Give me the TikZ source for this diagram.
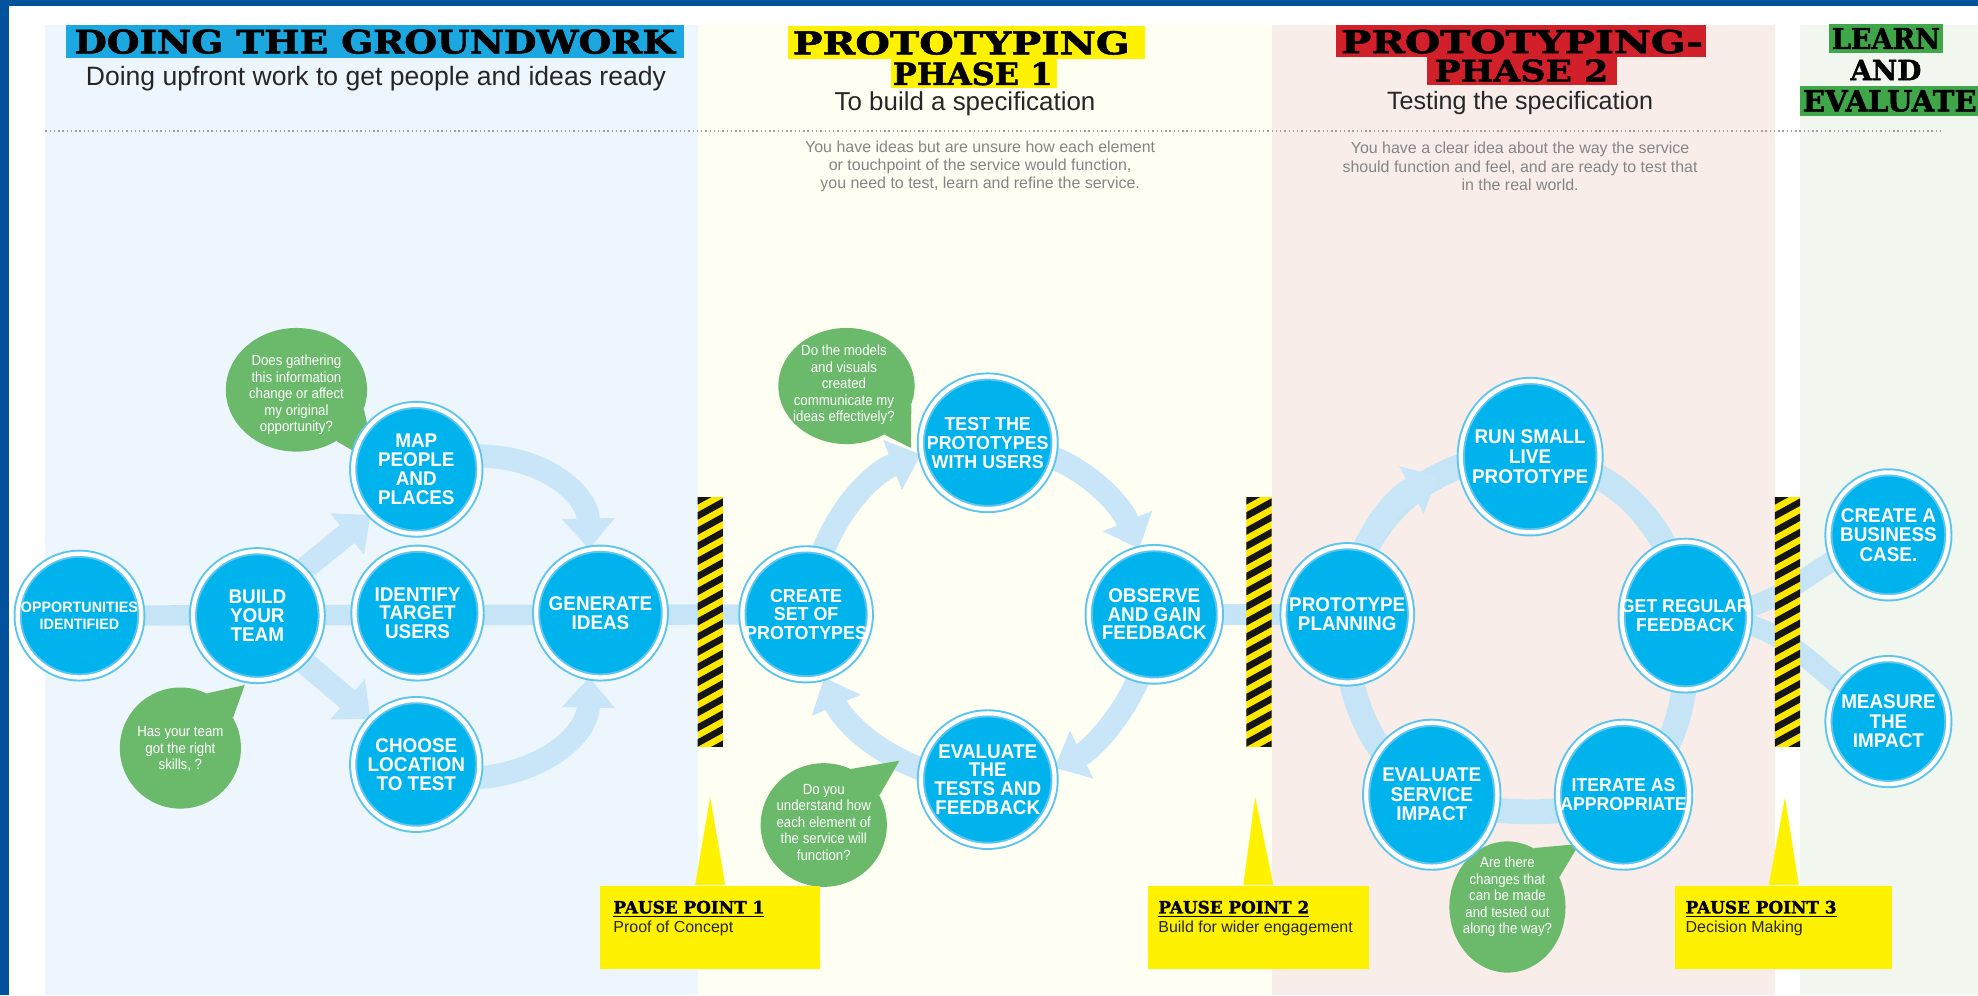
\documentclass[tikz,border=0pt]{standalone}
\usepackage{fontspec}
\setmainfont{Liberation Sans}
\newfontfamily\hfont{DejaVu Serif}[BoldFeatures={FakeBold=1.6}]
\newfontfamily\cfont{Liberation Sans}[FakeStretch=0.95]
\newfontfamily\sfont{Liberation Sans}[FakeStretch=0.9]
\usetikzlibrary{shapes.geometric,arrows.meta}
\pgfdeclarelayer{back}
\pgfdeclarelayer{mid}
\pgfsetlayers{back,mid,main}
\definecolor{borderblue}{HTML}{00529C}
\definecolor{colblue}{HTML}{EEF6FD}
\definecolor{colyel}{HTML}{FEFEF2}
\definecolor{colpink}{HTML}{F9EDEA}
\definecolor{colgreen}{HTML}{F1F6EF}
\definecolor{hcyan}{HTML}{1BA8E0}
\definecolor{hyel}{HTML}{FFF200}
\definecolor{hred}{HTML}{D2202B}
\definecolor{hgreen}{HTML}{3FA64A}
\definecolor{cfill}{HTML}{00B3EC}
\definecolor{cring}{HTML}{5BC5EE}
\definecolor{bandc}{HTML}{C5E5F7}
\definecolor{arrc}{HTML}{C8E6F8}
\definecolor{bubc}{HTML}{6BB96B}
\definecolor{paragray}{HTML}{858585}
\definecolor{subgray}{HTML}{262626}
\definecolor{dotgray}{HTML}{A0A0A0}
\definecolor{hzy}{HTML}{FFE800}
\definecolor{hzk}{HTML}{151515}
\tikzset{
  disc/.style 2 args={ellipse, fill=cfill, draw=cring, line width=1.1pt, double=white,
    double distance=2.4pt, minimum width={#1*0.7113pt}, minimum height={#2*0.7113pt}, inner sep=0pt},
  ctext/.style={text=white, align=center, inner sep=0pt, font={\cfont\bfseries\fontsize{11.2}{10.6}\selectfont}},
  ctextm/.style={ctext, font={\cfont\bfseries\fontsize{10.6}{10.6}\selectfont}},
  ctextl/.style={ctext, font={\cfont\bfseries\fontsize{11.2}{11}\selectfont}},
  ctextlm/.style={ctext, font={\cfont\bfseries\fontsize{10.5}{11}\selectfont}},
  ctexts/.style={ctext, font={\cfont\bfseries\fontsize{8.5}{9.6}\selectfont}},
  bubble/.style 2 args={ellipse, fill=bubc, minimum width={#1*0.7113pt}, minimum height={#2*0.7113pt}, inner sep=0pt},
  btext/.style={text=white, align=center, inner sep=0pt, font={\sfont\fontsize{8.3}{9.3}\selectfont}},
  band/.style={draw=bandc, line width=11.5pt},
  ringband/.style={draw=bandc, line width=14pt},
  barrow/.style={draw=arrc, line width=13pt, -{Triangle[width=29pt,length=17pt]}},
  htext/.style={inner sep=0pt, font=\hfont\bfseries},
  subt/.style={inner sep=0pt, text=subgray},
  para/.style={text=paragray, align=center, inner sep=0pt, font={\fontsize{9}{10.3}\selectfont}},
  pbox/.style={fill=hyel, minimum width={#1*0.7113pt}, minimum height={66*0.7113pt}, inner sep=0pt},
  ptitle/.style={anchor=base west, inner sep=0pt, font={\hfont\bfseries\fontsize{9.5}{11}\selectfont}},
  psub/.style={anchor=base west, inner sep=0pt, text=black!85, font={\fontsize{9}{10}\selectfont}},
  dotline/.style={draw=dotgray, line width=0.8pt, dash pattern=on 0.8pt off 1.6pt}
}
\begin{document}
\begin{tikzpicture}[x=0.025cm,y=-0.025cm]
\useasboundingbox (0,0) rectangle (1568,789);
\begin{pgfonlayer}{back}
  \fill[white] (0,0) rectangle (1568,789);
  \fill[colblue] (36,20) rectangle (553,789);
  \fill[colyel] (553,20) rectangle (1008,789);
  \fill[colpink] (1008,20) rectangle (1407,789);
  \fill[colgreen] (1427,20) rectangle (1568,789);
  \fill[borderblue] (0,0) rectangle (1568,5);
  \fill[borderblue] (0,0) rectangle (7,789);
  \draw[dotline] (36,104) -- (1540,104);
  \fill[hcyan] (52,20) rectangle (542,46);
  \fill[hyel] (625,21) rectangle (908,47);
  \fill[hyel] (706,47) rectangle (838,70);
  \fill[hred] (1059,20) rectangle (1352,45);
  \fill[hred] (1131,45) rectangle (1282,67);
  \fill[hgreen] (1450,19) rectangle (1540,42);
  \fill[hgreen] (1427,68) rectangle (1568,92);
\end{pgfonlayer}

% headings
\node[htext] (h1) at (297,33) {\resizebox{338.6pt}{13.5pt}{DOING THE GROUNDWORK}};
\node[htext] (h2a) at (762,34) {\resizebox{189.9pt}{13.16pt}{PROTOTYPING}};
\node[htext] (h2b) at (771,58.5) {\resizebox{90pt}{12.8pt}{PHASE 1}};
\node[htext] (h3a) at (1206.5,33) {\resizebox{204.1pt}{13.16pt}{PROTOTYPING-}};
\node[htext] (h3b) at (1206,56) {\resizebox{98pt}{12.45pt}{PHASE 2}};
\node[htext] (h4a) at (1495,30.5) {\resizebox{61pt}{11.8pt}{LEARN}};
\node[htext] (h4b) at (1495,55.5) {\resizebox{40pt}{11.4pt}{AND}};
\node[htext] (h4c) at (1498,80) {\resizebox{98pt}{12pt}{EVALUATE}};

\node[subt] (s1) at (298,62) {\resizebox{327pt}{!}{Doing upfront work to get people and ideas ready}};
\node[subt] (s2) at (765,82) {\resizebox{147pt}{!}{To build a specification}};
\node[subt] (s3) at (1205,82) {\resizebox{150pt}{!}{Testing the specification}};

\node[para] (p1) at (777,132) {You have ideas but are unsure how each element\\or touchpoint of the service would function,\\you need to test, learn and refine the service.};
\node[para] (p2) at (1205,132) {You have a clear idea about the way the service\\should function and feel, and are ready to test that\\in the real world.};

% speech bubbles
\node[bubble={112}{98}] (b1) at (235,309) {};
\coordinate (b1tip) at (298,368);
\fill[bubc] (b1.-16) -- (b1tip) -- (b1.-52) -- cycle;
\node[btext] (b1t) at (235,313) {Does gathering\\this information\\change or affect\\my original\\opportunity?};

\node[bubble={96}{96}] (b2) at (143,593) {};
\coordinate (b2tip) at (194,543);
\fill[bubc] (b2.64) -- (b2tip) -- (b2.30) -- cycle;
\node[btext] (b2t) at (143,594) {Has your team\\got the right\\skills, ?};

\node[bubble={108}{92}] (b3) at (671,306) {};
\coordinate (b3tip) at (722,355);
\fill[bubc] (b3.-16) -- (b3tip) -- (b3.-52) -- cycle;
\node[btext] (b3t) at (669,305) {Do the models\\and visuals\\created\\communicate my\\ideas effectively?};

\node[bubble={100}{98}] (b4) at (653,654) {};
\coordinate (b4tip) at (713,603);
\fill[bubc] (b4.64) -- (b4tip) -- (b4.28) -- cycle;
\node[btext] (b4t) at (653,652) {Do you\\understand how\\each element of\\the service will\\function?};

\node[bubble={92}{104}] (b5) at (1195,719) {};
\coordinate (b5tip) at (1252,669);
\fill[bubc] (b5.66) -- (b5tip) -- (b5.30) -- cycle;
\node[btext] (b5t) at (1195,711) {Are there\\changes that\\can be made\\and tested out\\along the way?};

% stages
\node[disc={98}{98}] (opp) at (63,488) {};
\node[disc={102}{102}] (build) at (204,488) {};
\node[disc={100}{102}] (map) at (330,372) {};
\node[disc={100}{102}] (ident) at (331,486) {};
\node[disc={100}{102}] (choose) at (330,606) {};
\node[disc={102}{102}] (gen) at (476,486) {};
\node[disc={101}{103}] (cset) at (639,487) {};
\node[disc={106}{105}] (test) at (783,351) {};
\node[disc={104}{105}] (obs) at (915,487) {};
\node[disc={106}{105}] (eval) at (783,618) {};
\node[disc={101}{108}] (plan) at (1068,487) {};
\node[disc={110}{120}] (run) at (1213,362) {};
\node[disc={101}{117}] (get) at (1336,488) {};
\node[disc={104}{114}] (evals) at (1135,630) {};
\node[disc={104}{114}] (iter) at (1287,630) {};
\node[disc={95}{99}] (bcase) at (1497,424) {};
\node[disc={95}{99}] (meas) at (1497,572) {};

\node[ctexts] (opp-t) at (opp) {OPPORTUNITIES\\IDENTIFIED};
\node[ctext] (build-t) at (build) {BUILD\\YOUR\\TEAM};
\node[ctext] (map-t) at (map) {MAP\\PEOPLE\\AND\\PLACES};
\node[ctext] (ident-t) at (ident) {IDENTIFY\\TARGET\\USERS};
\node[ctext] (choose-t) at (choose) {CHOOSE\\LOCATION\\TO TEST};
\node[ctext] (gen-t) at (gen) {GENERATE\\IDEAS};
\node[ctextm] (cset-t) at (cset) {CREATE\\SET OF\\PROTOTYPES};
\node[ctextm] (test-t) at (test) {TEST THE\\PROTOTYPES\\WITH USERS};
\node[ctext] (obs-t) at (obs) {OBSERVE\\AND GAIN\\FEEDBACK};
\node[ctext] (eval-t) at (eval) {EVALUATE\\THE\\TESTS AND\\FEEDBACK};
\node[ctextl] (plan-t) at (plan) {PROTOTYPE\\PLANNING};
\node[ctextl] (run-t) at (run) {RUN SMALL\\LIVE\\PROTOTYPE};
\node[ctextlm] (get-t) at (get) {GET REGULAR\\FEEDBACK};
\node[ctextl] (evals-t) at (evals) {EVALUATE\\SERVICE\\IMPACT};
\node[ctextlm] (iter-t) at (iter) {ITERATE AS\\APPROPRIATE};
\node[ctextl] (bcase-t) at (bcase) {CREATE A\\BUSINESS\\CASE.};
\node[ctextl] (meas-t) at (meas) {MEASURE\\THE\\IMPACT};

% pause points
\node[pbox=174] (pp1) at (563,735) {};
\node[pbox=175] (pp2) at (997.5,735) {};
\node[pbox=172] (pp3) at (1414,735) {};
\node[ptitle] (pp1a) at (486,724) {\underline{PAUSE POINT 1}};
\node[psub] (pp1b) at (486,739) {Proof of Concept};
\node[ptitle] (pp2a) at (918,724) {\underline{PAUSE POINT 2}};
\node[psub] (pp2b) at (918,739) {Build for wider engagement};
\node[ptitle] (pp3a) at (1336,724) {\underline{PAUSE POINT 3}};
\node[psub] (pp3b) at (1336,739) {Decision Making};
\coordinate (pp1tip) at (563,632);
\coordinate (pp2tip) at (995,632);
\coordinate (pp3tip) at (1415,632);
\coordinate (runhead) at (1140.1,377.3);

\begin{pgfonlayer}{mid}
  % bands
  \draw[band] (opp.center) -- (cset.center);
  \draw[band] (obs.center) -- (plan.center);
  \draw[band] (get.center) .. controls (1420,488) and (1430,445) .. (bcase.center);
  \draw[band] (get.center) .. controls (1420,488) and (1430,530) .. (meas.center);
  % phase 2 ring
  \draw[ringband] (plan.center) .. controls (1075,411) and (1137,358) .. (run.center);
  \draw[ringband] (run.center) .. controls (1280,366) and (1330,421) .. (get.center);
  \draw[ringband] (get.center) .. controls (1341,541) and (1332,602) .. (iter.center);
  \draw[ringband] (iter.center) .. controls (1257,649) and (1166,647) .. (evals.center);
  \draw[ringband] (evals.center) .. controls (1085,603) and (1063,544) .. (plan.center);
  \draw[barrow, line width=14pt] (plan.center) .. controls (1072.55,437.6) and (1100.34,397.92) .. (runhead);
  % arrows
  \draw[barrow] (build.45) -- (map.225);
  \draw[barrow] (build.-45) -- (choose.135);
  \draw[barrow] (map.12) .. controls (432,362) and (466,392) .. (gen.100);
  \draw[barrow] (choose.-12) .. controls (432,612) and (466,582) .. (gen.-100);
  \draw[barrow] (cset.75) .. controls (667,400) and (693,374) .. (test.190);
  \draw[barrow] (test.-13) .. controls (864,375) and (888,399) .. (obs.103);
  \draw[barrow] (obs.-104) .. controls (888,571) and (864,595) .. (eval.10);
  \draw[barrow] (eval.171) .. controls (692,595) and (668,571) .. (cset.-74);
  % hazard stripes
  \foreach \sx in {553,988,1407}{
    \begin{scope}
      \clip (\sx,394) rectangle ++(20,198);
      \fill[hzy] (\sx,394) rectangle ++(20,198);
      \foreach \k in {0,...,17}{
        \fill[hzk] (\sx,{394+12*\k}) -- ++(20,-11) -- ++(0,6) -- ++(-20,11) -- cycle;
      }
    \end{scope}
  }
  % pause pointers
  \fill[hyel] ([xshift=-8.5pt]pp1.north) -- (pp1tip) -- ([xshift=8.5pt]pp1.north) -- cycle;
  \fill[hyel] ([xshift=-8.5pt]pp2.north) -- (pp2tip) -- ([xshift=8.5pt]pp2.north) -- cycle;
  \fill[hyel] ([xshift=-8.5pt]pp3.north) -- (pp3tip) -- ([xshift=8.5pt]pp3.north) -- cycle;
\end{pgfonlayer}
\end{tikzpicture}
\end{document}
